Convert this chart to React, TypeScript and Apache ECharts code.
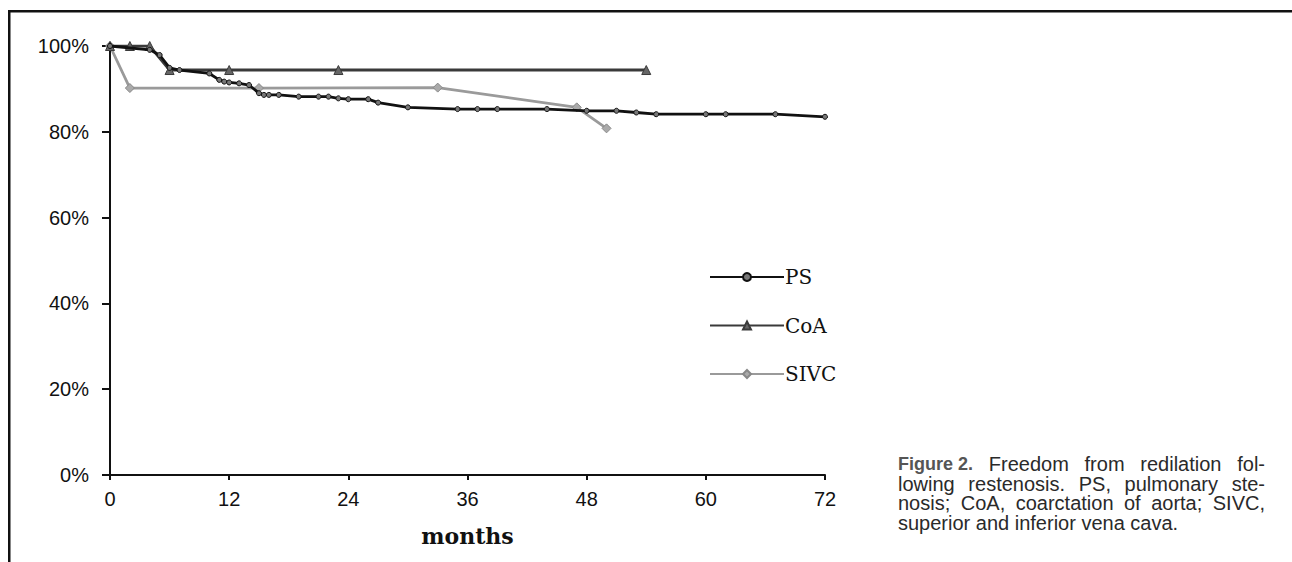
import React, { useEffect, useRef } from "react";
import * as echarts from "echarts";

const psMonths = [0, 4, 5, 6, 7, 10, 11, 11.5, 12, 13, 14, 15, 15.5, 16, 17, 19, 21, 22, 23, 24, 26, 27, 30, 35, 37, 39, 44, 48, 51, 53, 55, 60, 62, 67, 72];
const psValues = [100, 99.1, 97.9, 94.9, 94.4, 93.6, 92.1, 91.7, 91.5, 91.3, 90.9, 89.0, 88.6, 88.6, 88.6, 88.2, 88.2, 88.2, 87.8, 87.6, 87.6, 86.8, 85.7, 85.3, 85.3, 85.3, 85.3, 84.9, 84.9, 84.5, 84.1, 84.1, 84.1, 84.1, 83.5];

const coaMonths = [0, 2, 4, 6, 12, 23, 54];
const coaValues = [100, 100, 100, 94.4, 94.4, 94.4, 94.4];

const sivcMonths = [0, 2, 15, 33, 47, 50];
const sivcValues = [100, 90.2, 90.2, 90.3, 85.7, 80.8];

const seriesNames = ["PS", "CoA", "SIVC"];
const xTicks = { min: 0, max: 72, interval: 12 };
const yTicks = { min: 0, max: 100, interval: 20 };
const xAxisTitle = "months";
const captionLabel = "Figure 2.";
const captionLines = [
  "Freedom from redilation fol-",
  "lowing restenosis. PS, pulmonary ste-",
  "nosis; CoA, coarctation of aorta; SIVC,",
  "superior and inferior vena cava.",
];

const zip = (xs: number[], ys: number[]) => xs.map((x, i) => [x, ys[i]]);

function buildCaption() {
  const canvas = document.createElement("canvas");
  const ctx = canvas.getContext("2d") as CanvasRenderingContext2D;
  const regFont = "20px 'Liberation Sans'";
  const boldFont = "bold 18px 'Liberation Sans'";
  const left = 898;
  const right = 1265;
  const top = 464;
  const step = 19.5;
  const els: any[] = [];
  captionLines.forEach((line, li) => {
    const tokens: { t: string; bold: boolean }[] = [];
    if (li === 0) tokens.push({ t: captionLabel, bold: true });
    line.split(" ").forEach((w) => tokens.push({ t: w, bold: false }));
    const widths = tokens.map((tk) => {
      ctx.font = tk.bold ? boldFont : regFont;
      return ctx.measureText(tk.t).width;
    });
    ctx.font = regFont;
    const spaceW = ctx.measureText(" ").width;
    const total = widths.reduce((a, b) => a + b, 0);
    const justify = li < captionLines.length - 1;
    const gap = justify ? (right - left - total) / (tokens.length - 1) : spaceW;
    let x = left;
    tokens.forEach((tk, i) => {
      els.push({
        type: "text",
        x,
        y: top + li * step,
        silent: true,
        style: {
          text: tk.t,
          fontFamily: "Liberation Sans",
          fontSize: tk.bold ? 18 : 20,
          fontWeight: tk.bold ? "bold" : "normal",
          fill: tk.bold ? "#555" : "#2a2a2a",
          verticalAlign: "middle",
          align: "left",
        },
      });
      x += widths[i] + gap;
    });
  });
  return els;
}

export default function App() {
  const ref = useRef<HTMLDivElement>(null);
  useEffect(() => {
    if (!ref.current) return;
    const chart = echarts.init(ref.current, null, { renderer: "svg" });
    chart.setOption({
      animation: false,
      backgroundColor: "#ffffff",
      grid: { left: 110, right: 1292 - 825, top: 46, bottom: 562 - 475, containLabel: false },
      xAxis: {
        type: "value",
        min: xTicks.min,
        max: xTicks.max,
        interval: xTicks.interval,
        splitLine: { show: false },
        axisLine: { show: true, lineStyle: { color: "#111", width: 2 } },
        axisTick: { show: true, length: 5, lineStyle: { color: "#111", width: 2 } },
        axisLabel: { margin: 14, color: "#111", fontSize: 20, fontFamily: "Liberation Sans" },
        name: xAxisTitle,
        nameLocation: "middle",
        nameGap: 50,
        nameTextStyle: { fontFamily: "DejaVu Serif", fontWeight: "bold", fontSize: 22, color: "#111" },
      },
      yAxis: {
        type: "value",
        min: yTicks.min,
        max: yTicks.max,
        interval: yTicks.interval,
        splitLine: { show: false },
        axisLine: { show: true, lineStyle: { color: "#111", width: 2 } },
        axisTick: { show: true, length: 8, lineStyle: { color: "#111", width: 2 } },
        axisLabel: { margin: 21, color: "#111", fontSize: 20, fontFamily: "Liberation Sans", formatter: "{value}%" },
      },
      legend: {
        orient: "vertical",
        left: 704,
        top: 262,
        itemWidth: 74,
        itemHeight: 10,
        itemGap: 28.5,
        data: seriesNames,
        textStyle: { fontFamily: "DejaVu Serif", fontSize: 20, lineHeight: 20, color: "#111", padding: [0, 0, 0, -4] },
      },
      series: [
        {
          name: seriesNames[0],
          type: "line",
          data: zip(psMonths, psValues),
          symbol: "circle",
          symbolSize: 5,
          lineStyle: { color: "#111", width: 2.8 },
          itemStyle: { color: "#777", borderColor: "#111", borderWidth: 1 },
          z: 4,
        },
        {
          name: seriesNames[1],
          type: "line",
          data: zip(coaMonths, coaValues),
          symbol: "triangle",
          symbolSize: 9,
          lineStyle: { color: "#3a3a3a", width: 2.8 },
          itemStyle: { color: "#666", borderColor: "#3a3a3a", borderWidth: 1 },
          z: 3,
        },
        {
          name: seriesNames[2],
          type: "line",
          data: zip(sivcMonths, sivcValues),
          symbol: "diamond",
          symbolSize: 9,
          lineStyle: { color: "#9a9a9a", width: 2.8 },
          itemStyle: { color: "#aaa", borderColor: "#888", borderWidth: 1 },
          z: 2,
        },
      ],
      graphic: [
        { type: "rect", shape: { x: 8, y: 10, width: 1284, height: 2.5 }, style: { fill: "#111" }, silent: true },
        { type: "rect", shape: { x: 8, y: 10, width: 2.5, height: 552 }, style: { fill: "#111" }, silent: true },
        ...buildCaption(),
      ],
    });
    return () => chart.dispose();
  }, []);
  return <div ref={ref} style={{ position: "fixed", left: 0, top: 0, width: 1292, height: 562 }} />;
}
